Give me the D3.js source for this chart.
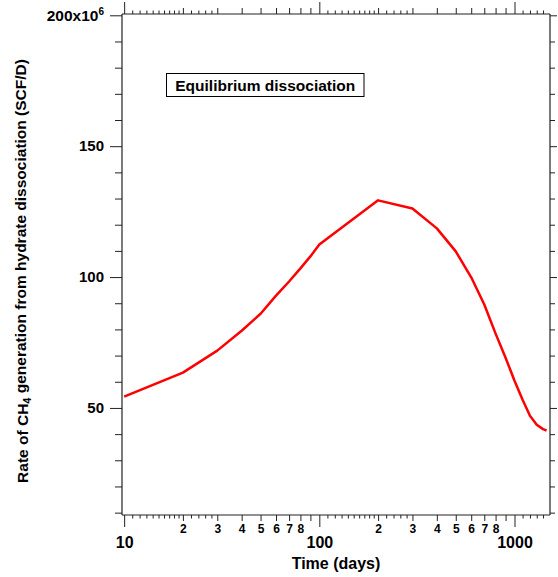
<!DOCTYPE html>
<html>
<head>
<meta charset="utf-8">
<script src="https://cdn.jsdelivr.net/npm/d3@7"></script>
<style>
  body { margin: 0; background: #fff; }
  svg { font-family: 'Liberation Sans', Arial, sans-serif; font-weight: bold; }
  .tick line { stroke: #222; }
</style>
</head>
<body>
<svg width="558" height="577"></svg>
<script>
// time (days) and rate of CH4 generation (x10^6 SCF/D)
const days = [10, 20, 30, 40, 50, 60, 70, 80, 90, 100, 200, 300, 400, 500, 600, 700, 800, 900, 1000, 1100, 1200, 1300, 1400, 1460];
const rate = [54.3, 63.5, 71.9, 79.5, 86.0, 92.9, 98.3, 103.3, 107.9, 112.4, 129.3, 126.2, 118.6, 109.8, 99.9, 89.5, 78.4, 69.2, 60.4, 53.1, 47.0, 43.6, 41.9, 41.4];

const xMajor = [10, 100, 1000];
const xMedium = [20, 30, 40, 50, 60, 70, 80, 90, 200, 300, 400, 500, 600, 700, 800, 900];
const xSmall = [11, 12, 13, 14, 15, 16, 17, 18, 19, 22, 24, 26, 28,
  110, 120, 130, 140, 150, 160, 170, 180, 190, 220, 240, 260, 280, 1100, 1200, 1300, 1400];
const yMajor = [50, 100, 150, 200];
const yMinor = [10, 20, 30, 40, 60, 70, 80, 90, 110, 120, 130, 140, 160, 170, 180, 190];

const legendText = 'Equilibrium dissociation';

const svg = d3.select('svg');
const box = { left: 122, right: 550, top: 14, bottom: 515 };

const x = d3.scaleLog().domain([9.75, 1520]).range([box.left, box.right]);
const y = d3.scaleLinear().domain([9.1, 200.5]).range([box.bottom, box.top]);

function addAxis(axis, transform, fontSize) {
  const g = svg.append('g')
    .attr('transform', transform)
    .call(axis);
  g.select('.domain').remove();
  g.selectAll('text').attr('fill', '#000').style('font-size', fontSize + 'px');
  return g;
}

// bottom axis: only 2..8 get a label between the decades
const mediumLabel = d => {
  const first = String(d)[0];
  return first === '9' ? '' : first;
};
addAxis(d3.axisBottom(x).tickValues(xMajor).tickSize(12).tickPadding(10).tickFormat(d3.format('d')),
  `translate(0,${box.bottom})`, 16);
addAxis(d3.axisBottom(x).tickValues(xMedium).tickSize(6).tickPadding(3).tickFormat(mediumLabel),
  `translate(0,${box.bottom})`, 12);
addAxis(d3.axisBottom(x).tickValues(xSmall).tickSize(3.5).tickFormat(''),
  `translate(0,${box.bottom})`, 11);

// top axis (mirror, no labels)
addAxis(d3.axisTop(x).tickValues(xMajor).tickSize(12).tickFormat(''), `translate(0,${box.top})`, 11);
addAxis(d3.axisTop(x).tickValues(xMedium).tickSize(6).tickFormat(''), `translate(0,${box.top})`, 11);
addAxis(d3.axisTop(x).tickValues(xSmall).tickSize(3.5).tickFormat(''), `translate(0,${box.top})`, 11);

// left axis
const yLeft = addAxis(d3.axisLeft(y).tickValues(yMajor).tickSize(12).tickPadding(6).tickFormat(d => d === 200 ? '' : d),
  `translate(${box.left},0)`, 15);
addAxis(d3.axisLeft(y).tickValues(yMinor).tickSize(7).tickFormat(''), `translate(${box.left},0)`, 11);

// top label with the exponent
const topLabel = yLeft.selectAll('.tick').filter(d => d === 200).select('text');
topLabel.text('200x10').style('font-size', '15.5px');
topLabel.append('tspan').text('6').attr('dy', '-0.55em').style('font-size', '10px');

// right axis (mirror, no labels)
addAxis(d3.axisRight(y).tickValues(yMajor).tickSize(7).tickFormat(''), `translate(${box.right},0)`, 11);
addAxis(d3.axisRight(y).tickValues(yMinor).tickSize(5).tickFormat(''), `translate(${box.right},0)`, 11);

// frame
const frame = svg.append('g').attr('stroke', '#222').attr('stroke-width', 1.2);
frame.append('line').attr('x1', box.left).attr('x2', box.left).attr('y1', box.top).attr('y2', box.bottom);
frame.append('line').attr('x1', box.right).attr('x2', box.right).attr('y1', box.top).attr('y2', box.bottom);
frame.append('line').attr('x1', box.left).attr('x2', box.right).attr('y1', box.top).attr('y2', box.top);
frame.append('line').attr('x1', box.left).attr('x2', box.right).attr('y1', box.bottom).attr('y2', box.bottom);

// data line
const line = d3.line()
  .x((d, i) => x(days[i]))
  .y(d => y(d));

svg.append('path')
  .datum(rate)
  .attr('fill', 'none')
  .attr('stroke', '#ff0000')
  .attr('stroke-width', 2.5)
  .attr('stroke-linejoin', 'round')
  .attr('d', line);

// legend box
const legend = svg.append('g').attr('transform', 'translate(166.5,73.5)');
legend.append('rect')
  .attr('width', 197.5)
  .attr('height', 23)
  .attr('fill', '#fff')
  .attr('stroke', '#000');
legend.append('text')
  .attr('x', 98.75)
  .attr('y', 17.5)
  .attr('text-anchor', 'middle')
  .style('font-size', '15.5px')
  .text(legendText);

// axis titles
svg.append('text')
  .attr('x', (box.left + box.right) / 2)
  .attr('y', 569)
  .attr('text-anchor', 'middle')
  .style('font-size', '16px')
  .text('Time (days)');

const yTitle = svg.append('text')
  .attr('transform', 'translate(27.5,271) rotate(-90)')
  .attr('text-anchor', 'middle')
  .style('font-size', '15.5px');
yTitle.append('tspan').text('Rate of CH');
yTitle.append('tspan').text('4').attr('dy', '0.3em').style('font-size', '11px');
yTitle.append('tspan').text(' generation from hydrate dissociation (SCF/D)').attr('dy', '-0.3em');
</script>
</body>
</html>
